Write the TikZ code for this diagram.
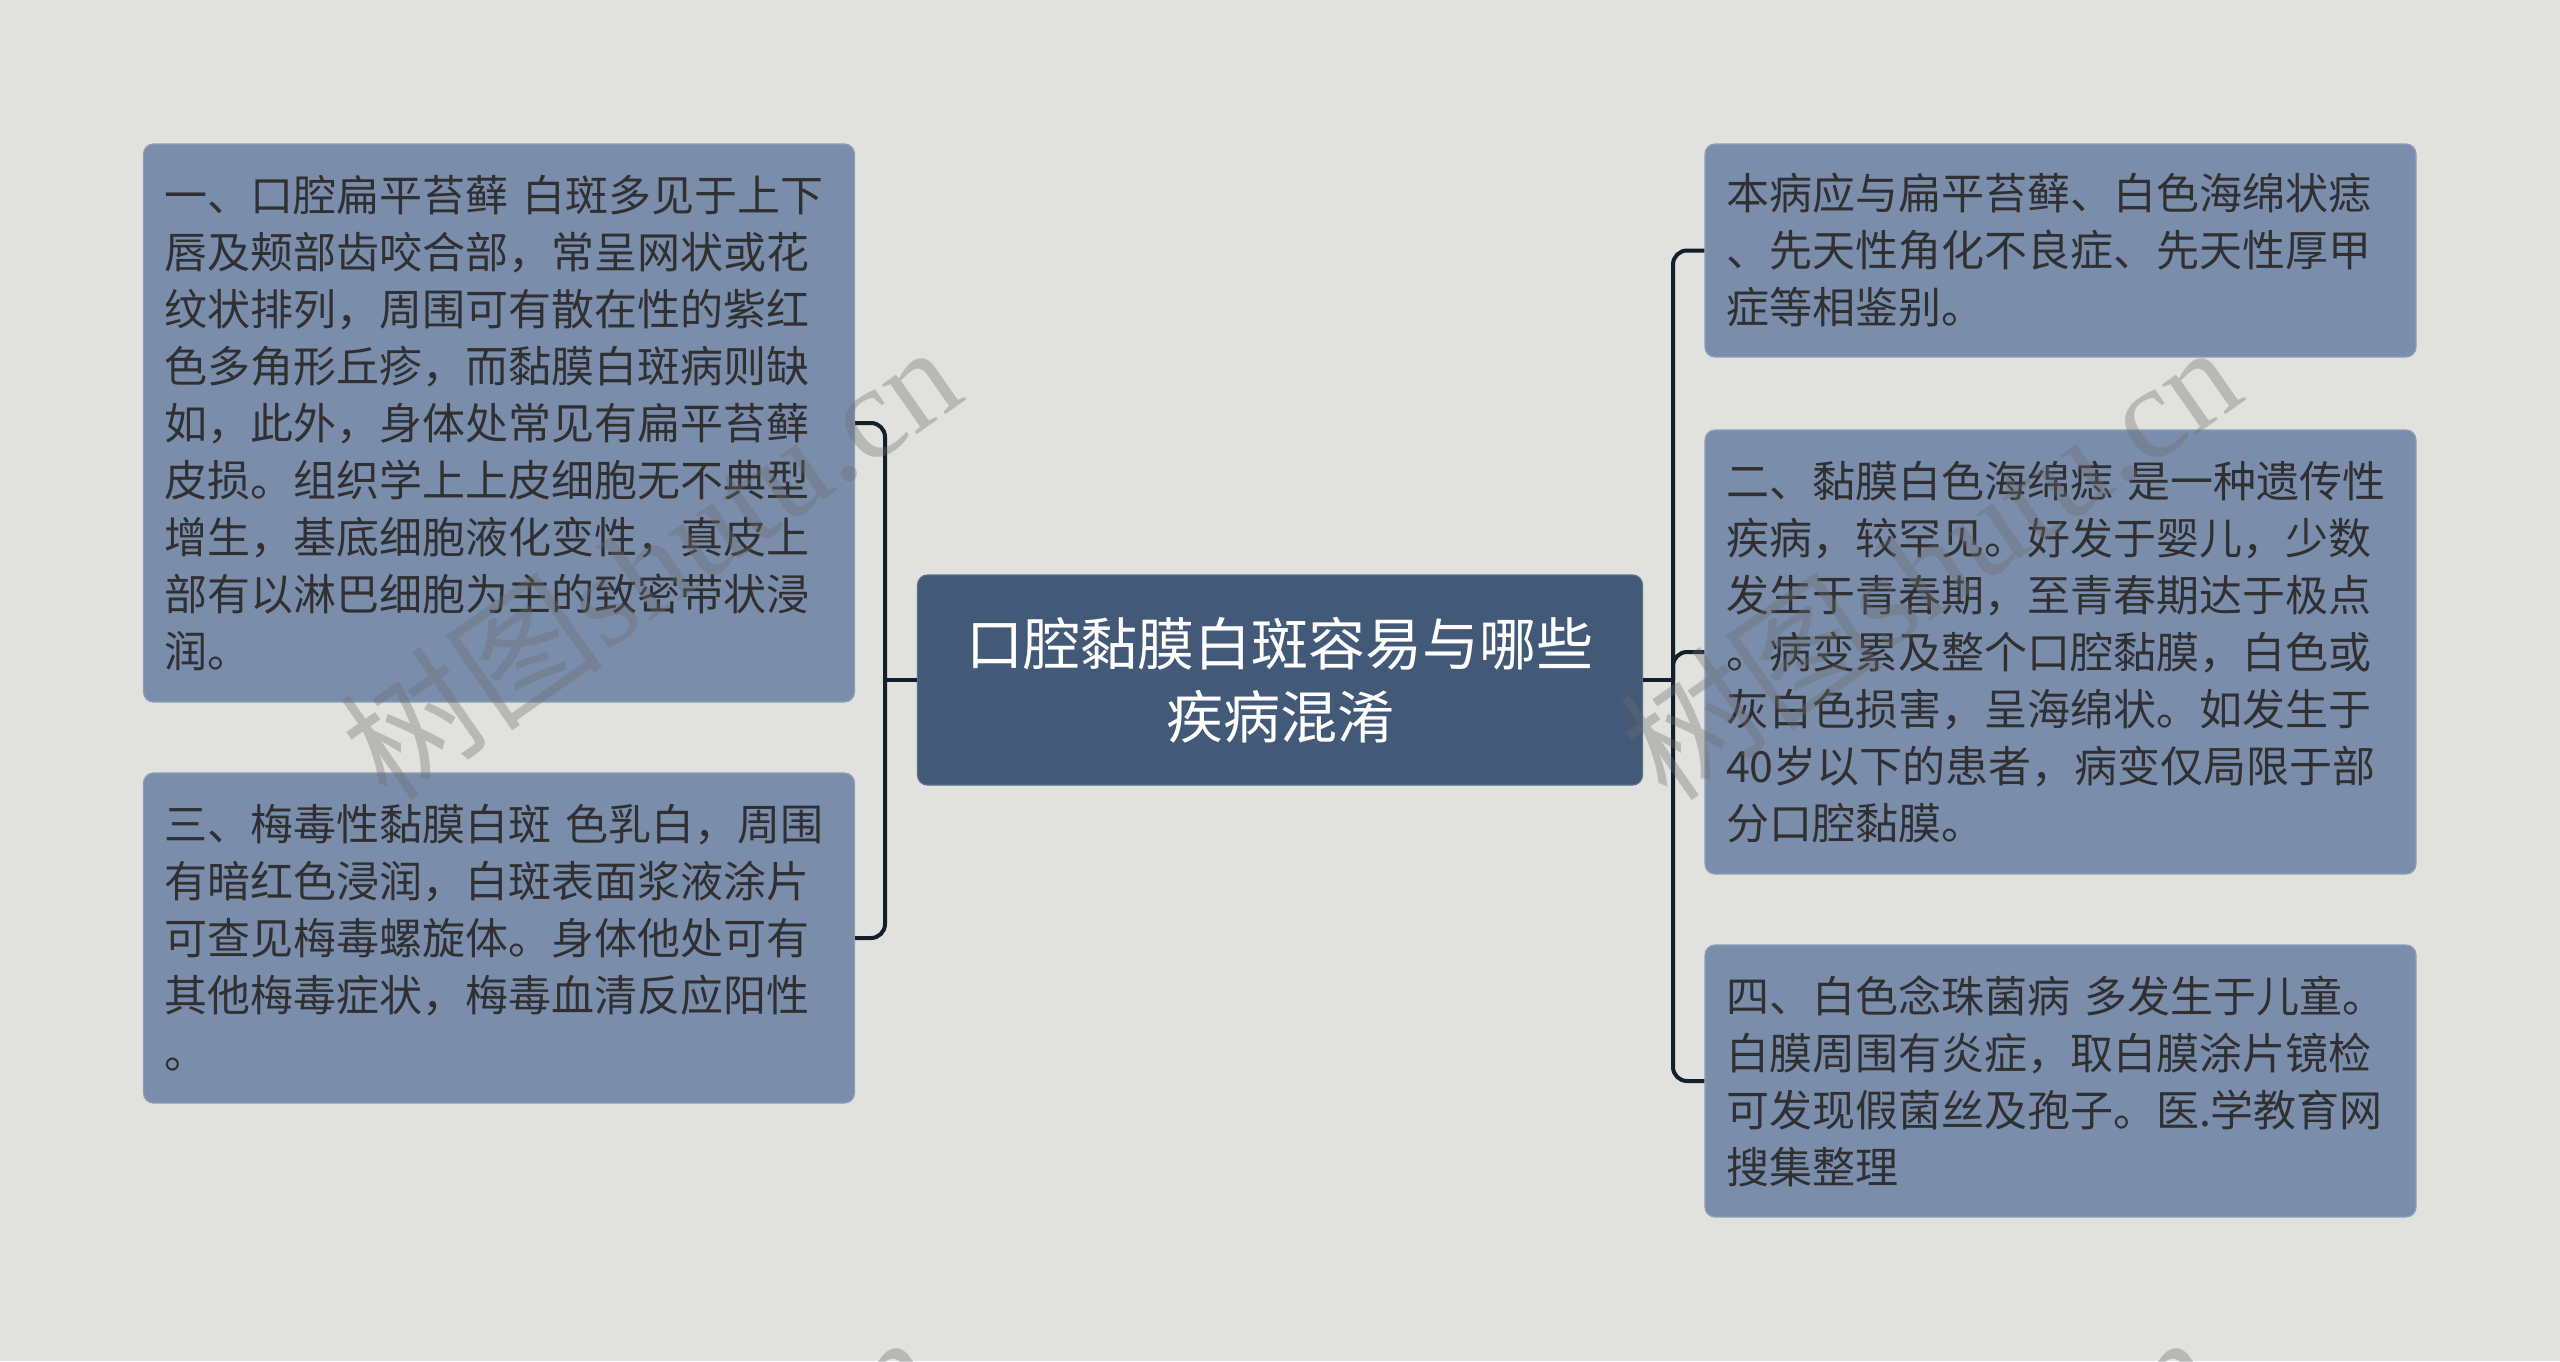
\documentclass[tikz,border=0pt]{standalone}
\usepackage{fontspec}
\usepackage{xcolor}
\usepackage{tikz}
\usetikzlibrary{positioning, calc}
\newfontfamily\cjk{Noto Sans CJK SC}
\newfontfamily\wmserif{Liberation Serif}
\definecolor{mybg}{RGB}{225,226,222}
\definecolor{myleaf}{RGB}{122,141,171}
\definecolor{myleafedge}{RGB}{140,158,186}
\definecolor{myroot}{RGB}{66,90,120}
\definecolor{myrootedge}{RGB}{88,110,140}
\definecolor{mytext}{RGB}{48,48,50}
\definecolor{mylink}{RGB}{20,30,45}
\definecolor{mywm}{RGB}{110,110,110}
\tikzset{
  rootbox/.style={rectangle, draw=myrootedge, fill=myroot, line width=0.6pt,
    rounded corners=5pt, text=white, align=center, text width=330pt,
    minimum width=362.5pt, minimum height=105pt, inner xsep=16.25pt, inner ysep=0pt,
    font=\cjk\fontsize{28.5}{36.5}\selectfont},
  leafbox/.style={rectangle, draw=myleafedge, fill=myleaf, line width=0.6pt,
    rounded corners=5pt, text=mytext, align=left, text width=334.5pt,
    inner xsep=10.5pt, inner ysep=0pt,
    font=\cjk\fontsize{21.5}{28.5}\selectfont},
  link/.style={line width=2pt, color=mylink, rounded corners=7pt},
  wmark/.style={text=mywm, opacity=0.35, rotate=35, font=\fontsize{66}{66}\selectfont}
}
\begin{document}
\begin{tikzpicture}[x=0.5pt, y=-0.5pt]
  % page and background
  \useasboundingbox (0,0) rectangle (2560,1361);
  \fill[mybg] (0,0) rectangle (2560,1361);

  % centre topic
  \node[rootbox] (root) at (1280,680) {口腔黏膜白斑容易与哪些\\疾病混淆};

  % left branches
  \node[leafbox, minimum height=279pt] (l1) at (499,423) {一、口腔扁平苔藓 白斑多见于上下\\唇及颊部齿咬合部，常呈网状或花\\纹状排列，周围可有散在性的紫红\\色多角形丘疹，而黏膜白斑病则缺\\如，此外，身体处常见有扁平苔藓\\皮损。组织学上上皮细胞无不典型\\增生，基底细胞液化变性，真皮上\\部有以淋巴细胞为主的致密带状浸\\润。};
  \node[leafbox, minimum height=165pt] (l2) at (499,938) {三、梅毒性黏膜白斑 色乳白，周围\\有暗红色浸润，白斑表面浆液涂片\\可查见梅毒螺旋体。身体他处可有\\其他梅毒症状，梅毒血清反应阳性\\。};

  % right branches
  \node[leafbox, minimum height=106.5pt] (r1) at (2060.5,250.5) {本病应与扁平苔藓、白色海绵状痣\\、先天性角化不良症、先天性厚甲\\症等相鉴别。};
  \node[leafbox, minimum height=222pt] (r2) at (2060.5,652) {二、黏膜白色海绵痣 是一种遗传性\\疾病，较罕见。好发于婴儿，少数\\发生于青春期，至青春期达于极点\\。病变累及整个口腔黏膜，白色或\\灰白色损害，呈海绵状。如发生于\\40岁以下的患者，病变仅局限于部\\分口腔黏膜。};
  \node[leafbox, minimum height=136pt] (r3) at (2060.5,1081) {四、白色念珠菌病 多发生于儿童。\\白膜周围有炎症，取白膜涂片镜检\\可发现假菌丝及孢子。医.学教育网\\搜集整理};

  % connectors
  \coordinate (lj) at (885,680);
  \coordinate (rj) at (1673,680);
  \draw[link] (root.west) -- (lj);
  \draw[link] (root.east) -- (rj);
  \foreach \n in {l1,l2}
    \draw[link] (lj) |- (\n.east);
  \foreach \n in {r1,r2,r3}
    \draw[link] (rj) |- (\n.west);

  % watermarks
  \begin{scope}
    \clip (0,0) rectangle (2560,1361);
    \foreach \wx/\wy in {650/560, 1930/560, 625/1550, 1905/1550}
      \node[wmark] (wm) at (\wx,\wy) {\cjk 树图\wmserif shutu.cn};
  \end{scope}
\end{tikzpicture}
\end{document}
